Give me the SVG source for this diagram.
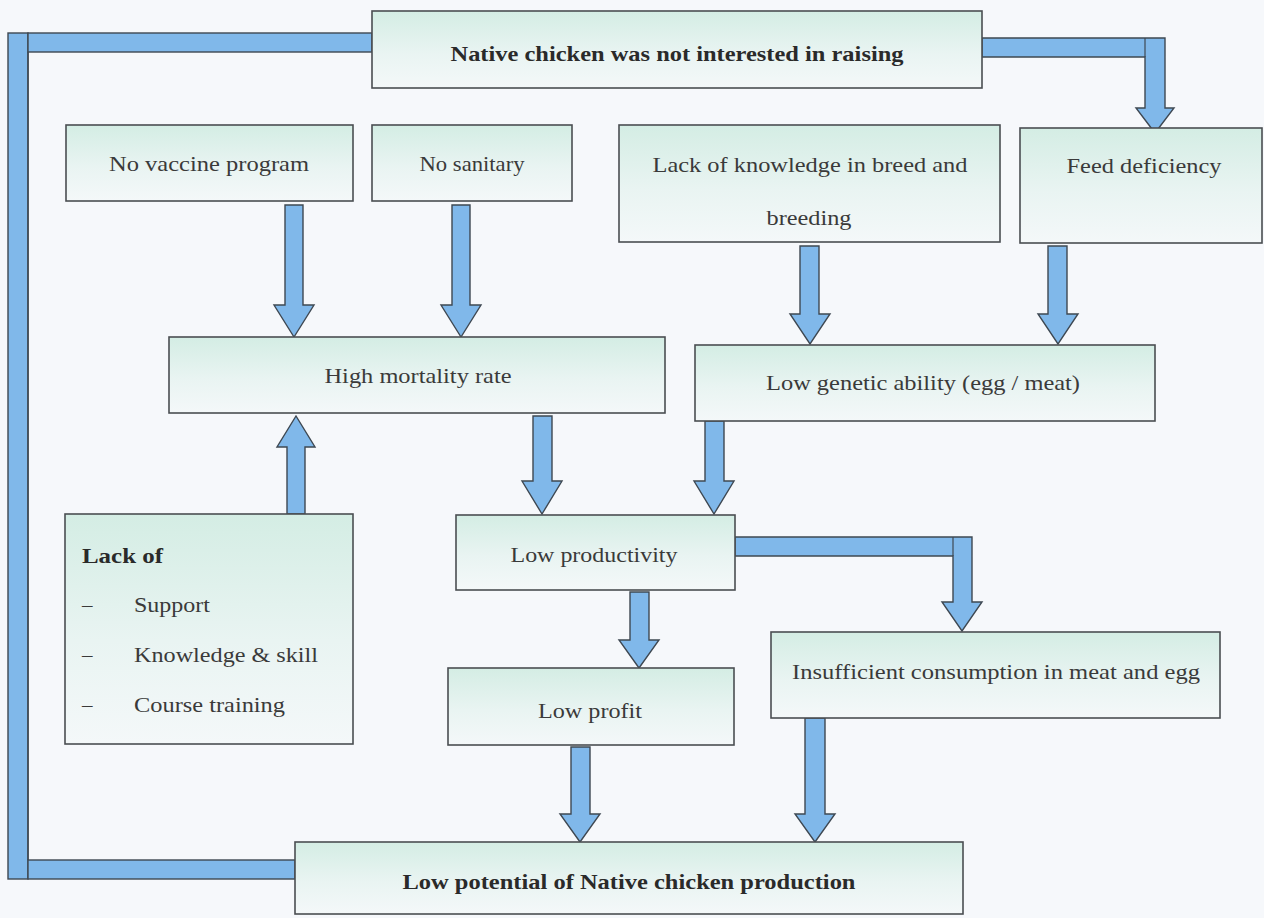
<svg xmlns="http://www.w3.org/2000/svg" width="1264" height="918" viewBox="0 0 1264 918" font-family="'Liberation Serif', 'DejaVu Serif', serif">
<defs>
<linearGradient id="bx" x1="0" y1="0" x2="0" y2="1">
<stop offset="0" stop-color="#d4ede4"/>
<stop offset="0.55" stop-color="#e9f4f2"/>
<stop offset="1" stop-color="#f4f8f9"/>
</linearGradient>
<style>
.box{fill:url(#bx);stroke:#4a4e52;stroke-width:1.6}
.arr{fill:#80b8ea;stroke:#3e4852;stroke-width:1.4;stroke-linejoin:miter}
.t{font-family:'Liberation Serif','DejaVu Serif',serif;font-size:21px;fill:#3a3a3a}
.c{text-anchor:middle}
.b{font-weight:bold;fill:#2a2a2a}
</style>
</defs>
<rect width="1264" height="918" fill="#f6f8fb"/>

<g id="connectors">
<rect class="arr" x="8" y="33" width="20" height="846"/>
<rect class="arr" x="28" y="33" width="344" height="19"/>
<rect class="arr" x="28" y="860" width="267" height="19"/>
<line x1="28" y1="52" x2="28" y2="860" stroke="#3e4852" stroke-width="1.4"/>
<polygon class="arr" points="982,38 1165,38 1165,108 1174,108 1155,133 1136,108 1145,108 1145,57 982,57"/>
<line x1="1145" y1="38" x2="1145" y2="57" stroke="#3e4852" stroke-width="1.2"/>
<polygon class="arr" points="285,205 303,205 303,305 314,305 294,337 274,305 285,305"/>
<polygon class="arr" points="452,205 470,205 470,305 481,305 461,337 441,305 452,305"/>
<polygon class="arr" points="800,246 819,246 819,314 830,314 810,344 790,314 800,314"/>
<polygon class="arr" points="1048,246 1067,246 1067,314 1078,314 1058,344 1038,314 1048,314"/>
<polygon class="arr" points="287,514 305,514 305,447 315,447 296,416 277,447 287,447"/>
<polygon class="arr" points="533,416 552,416 552,481 562,481 542,514 522,481 533,481"/>
<polygon class="arr" points="705,421 724,421 724,481 734,481 714,514 694,481 705,481"/>
<polygon class="arr" points="735,537 972,537 972,602 982,602 962,631 942,602 953,602 953,556 735,556"/>
<line x1="953" y1="537" x2="953" y2="556" stroke="#3e4852" stroke-width="1.2"/>
<polygon class="arr" points="630,592 649,592 649,640 659,640 639,668 619,640 630,640"/>
<polygon class="arr" points="571,747 590,747 590,814 600,814 580,842 560,814 571,814"/>
<polygon class="arr" points="805,718 825,718 825,814 835,814 815,842 795,814 805,814"/>
</g>

<g id="n-top">
<rect class="box" x="372" y="11" width="610" height="77"/>
<text class="t c b" x="677" y="61" textLength="453" lengthAdjust="spacingAndGlyphs">Native chicken was not interested in raising</text>
</g>
<g id="n-vaccine">
<rect class="box" x="66" y="125" width="287" height="76"/>
<text class="t c" x="209" y="171" textLength="200" lengthAdjust="spacingAndGlyphs">No vaccine program</text>
</g>
<g id="n-sanitary">
<rect class="box" x="372" y="125" width="200" height="76"/>
<text class="t c" x="472" y="171" textLength="105" lengthAdjust="spacingAndGlyphs">No sanitary</text>
</g>
<g id="n-knowledge">
<rect class="box" x="619" y="125" width="381" height="117"/>
<text class="t c" x="810" y="172" textLength="315" lengthAdjust="spacingAndGlyphs">Lack of knowledge in breed and</text>
<text class="t c" x="809" y="225" textLength="85" lengthAdjust="spacingAndGlyphs">breeding</text>
</g>
<g id="n-feed">
<rect class="box" x="1020" y="128" width="242" height="115"/>
<text class="t c" x="1144" y="173" textLength="155" lengthAdjust="spacingAndGlyphs">Feed deficiency</text>
</g>
<g id="n-mortality">
<rect class="box" x="169" y="337" width="496" height="76"/>
<text class="t c" x="418" y="383" textLength="187" lengthAdjust="spacingAndGlyphs">High mortality rate</text>
</g>
<g id="n-genetic">
<rect class="box" x="695" y="345" width="460" height="76"/>
<text class="t c" x="923" y="390" textLength="314" lengthAdjust="spacingAndGlyphs">Low genetic ability (egg / meat)</text>
</g>
<g id="n-lack">
<rect class="box" x="65" y="514" width="288" height="230"/>
<text class="t b" x="82" y="563" textLength="81" lengthAdjust="spacingAndGlyphs">Lack of</text>
<text class="t" x="82" y="612">–</text>
<text class="t" x="134" y="612" textLength="76" lengthAdjust="spacingAndGlyphs">Support</text>
<text class="t" x="82" y="662">–</text>
<text class="t" x="134" y="662" textLength="184" lengthAdjust="spacingAndGlyphs">Knowledge &amp; skill</text>
<text class="t" x="82" y="712">–</text>
<text class="t" x="134" y="712" textLength="151" lengthAdjust="spacingAndGlyphs">Course training</text>
</g>
<g id="n-productivity">
<rect class="box" x="456" y="515" width="279" height="75"/>
<text class="t c" x="594" y="562" textLength="167" lengthAdjust="spacingAndGlyphs">Low productivity</text>
</g>
<g id="n-profit">
<rect class="box" x="448" y="668" width="286" height="77"/>
<text class="t c" x="590" y="718" textLength="104" lengthAdjust="spacingAndGlyphs">Low profit</text>
</g>
<g id="n-consumption">
<rect class="box" x="771" y="632" width="449" height="86"/>
<text class="t c" x="996" y="679" textLength="408" lengthAdjust="spacingAndGlyphs">Insufficient consumption in meat and egg</text>
</g>
<g id="n-potential">
<rect class="box" x="295" y="842" width="668" height="72"/>
<text class="t c b" x="629" y="889" textLength="453" lengthAdjust="spacingAndGlyphs">Low potential of Native chicken production</text>
</g>
</svg>
